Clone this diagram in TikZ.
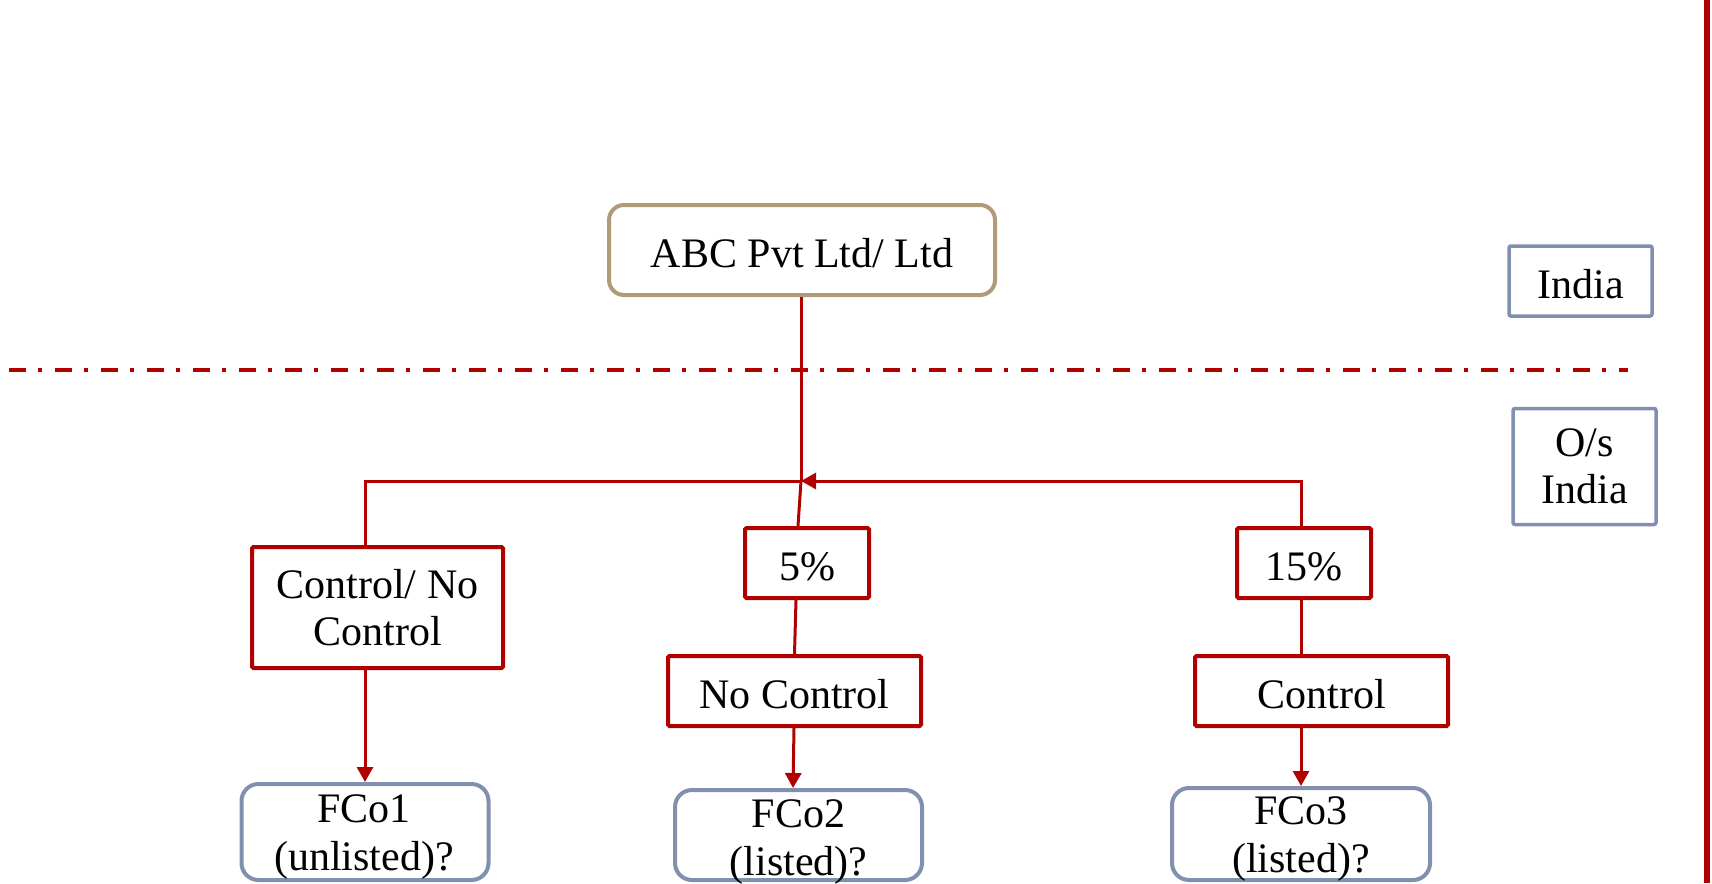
\documentclass[tikz,border=0pt]{standalone}
\usepackage{fontspec}
\setmainfont{Liberation Serif}
\usetikzlibrary{arrows.meta,calc}
\definecolor{linkred}{HTML}{B00000}
\definecolor{tanedge}{HTML}{B09A78}
\definecolor{slateedge}{HTML}{8190AE}

\begin{document}
\begin{tikzpicture}[x=1pt,y=-1pt,
  every node/.style={font=\fontsize{42}{47.5}\selectfont, inner sep=0pt, align=center},
  oneline/.style={text height=34pt, text depth=0pt},
  topbox/.style={draw=tanedge, line width=4pt, rounded corners=15pt, fill=white,
                 minimum width=386pt, minimum height=90pt},
  regionbox/.style={draw=slateedge, line width=3.5pt, rounded corners=2pt, minimum width=143pt},
  redbox/.style={draw=linkred, line width=4pt, rounded corners=1.5pt, fill=white, minimum height=70pt},
  fcobox/.style={draw=slateedge, line width=4pt, rounded corners=17pt, fill=white},
  link/.style={draw=linkred, line width=3pt},
  linkarrow/.style={link, -{Triangle[length=15pt,width=16pt]}},
  divider/.style={draw=linkred, line width=4.5pt, dash pattern=on 17pt off 12pt on 4pt off 13pt},
]
% page
\fill[white] (0,0) rectangle (1712,883);
\useasboundingbox (0,0) rectangle (1712,883);

% India / outside-India boundary and right margin bar
\coordinate (divL) at (9,370);
\coordinate (divR) at (1628,370);
\draw[divider] (divL) -- (divR);
\coordinate (barT) at (1707,0);
\coordinate (barB) at (1707,883);
\draw[draw=linkred, line width=6pt] (barT) -- (barB);

% region labels
\node[regionbox, oneline, minimum height=70pt] (india) at (1580.5,281) {India};
\node[regionbox, minimum height=116pt] (abroad) at (1584.5,466.5) {O/s\\India};

% parent company
\node[topbox, oneline] (abc) at (802,250) {ABC Pvt Ltd/ Ltd};

% holdings
\node[redbox, minimum width=251pt, minimum height=121pt] (mixed) at (377.5,607.5) {Control/ No\\Control};
\node[redbox, oneline, minimum width=124pt] (five) at (807,563) {5\%};
\node[redbox, oneline, minimum width=253pt] (nocontrol) at (794.5,691) {No Control};
\node[redbox, oneline, minimum width=134pt] (fifteen) at (1304,563) {15\%};
\node[redbox, oneline, minimum width=253pt] (control) at (1321.5,691) {Control};

% foreign companies
\node[fcobox, minimum width=247pt, minimum height=96pt] (fco1) at (365,832) {};
\node[fcobox, minimum width=247pt, minimum height=90pt] (fco2) at (798.5,835) {};
\node[fcobox, minimum width=258pt, minimum height=92pt] (fco3) at (1301,834) {};
\node[anchor=north] (fco1text) at (364,794.6) {FCo1\\(unlisted)?};
\node[anchor=north] (fco2text) at (798.5,799.6) {FCo2\\(listed)?};
\node[anchor=north] (fco3text) at (1301,796.6) {FCo3\\(listed)?};

% connectors
\coordinate (hub) at (801,481);
\draw[link] (abc.south -| hub) -- (hub);
\draw[link] (hub) -| (fco1.north |- mixed.north);
\draw[linkarrow] (fco1.north |- mixed.south) -- (fco1.north);

\draw[link] ($(five.north)+(-9,0)$) -- (hub);
\draw[link] ($(five.south)+(-11,0)$) -- (nocontrol.north);
\draw[linkarrow] ($(nocontrol.south)+(-0.5,0)$) -- ($(fco2.north)+(-5.5,0)$);

\draw[linkarrow] (fco3.north |- fifteen.north) |- (hub);
\draw[link] (fco3.north |- fifteen.south) -- (fco3.north |- control.north);
\draw[linkarrow] (fco3.north |- control.south) -- (fco3.north);
\end{tikzpicture}
\end{document}
